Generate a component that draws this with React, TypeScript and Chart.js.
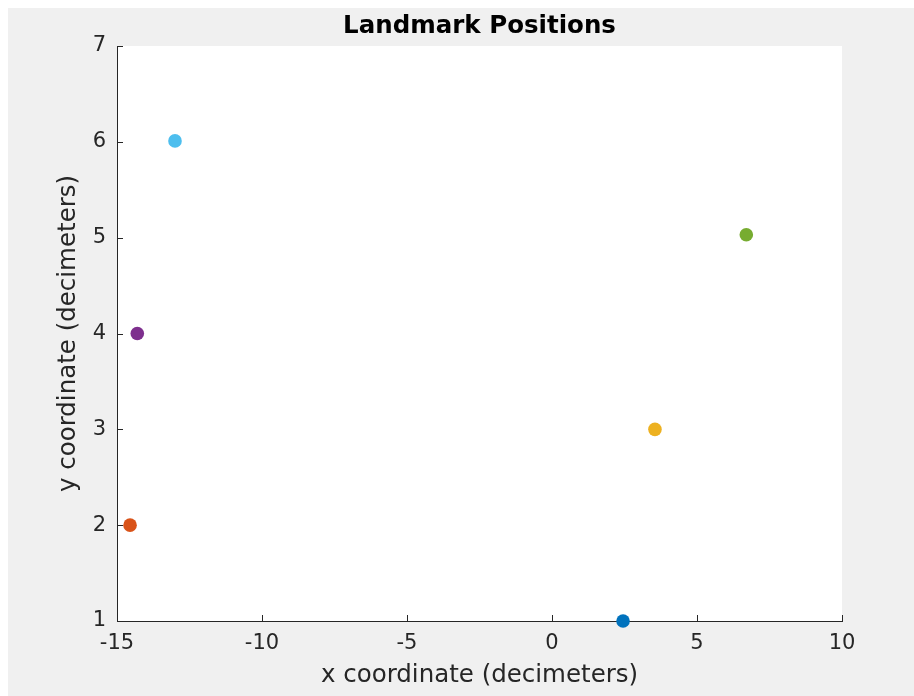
import React, { useEffect, useRef } from "react";
import { Chart, registerables } from "chart.js";

Chart.register(...registerables);

// Landmark coordinates (decimeters), one landmark per series
const landmarkNames = ["L1", "L2", "L3", "L4", "L5", "L6"];
const landmarkX = [2.45, -14.55, 3.55, -14.3, 6.7, -13.0];
const landmarkY = [1.0, 2.0, 3.0, 4.0, 5.03, 6.01];
const landmarkColors = ["#0072BD", "#D95319", "#EDB120", "#7E2F8E", "#77AC30", "#4DBEEE"];

const xTickValues = [-15, -10, -5, 0, 5, 10];
const yTickValues = [1, 2, 3, 4, 5, 6, 7];

const AXIS_COLOR = "#262626";
const FONT = "'DejaVu Sans', sans-serif";

// Tick marks drawn on the inside of the axes
const innerTicks = {
  id: "innerTicks",
  beforeDatasetsDraw(chart: any) {
    const { ctx, chartArea, scales } = chart;
    const len = 6;
    ctx.save();
    ctx.strokeStyle = AXIS_COLOR;
    ctx.lineWidth = 1;
    ctx.beginPath();
    for (const v of xTickValues) {
      const px = Math.round(scales.x.getPixelForValue(v)) + 0.5;
      ctx.moveTo(px, chartArea.bottom);
      ctx.lineTo(px, chartArea.bottom - len);
    }
    for (const v of yTickValues) {
      const py = Math.round(scales.y.getPixelForValue(v)) + 0.5;
      ctx.moveTo(chartArea.left, py);
      ctx.lineTo(chartArea.left + len, py);
    }
    ctx.stroke();
    ctx.restore();
  },
};

// White plot background inside the axes
const plotBackground = {
  id: "plotBackground",
  beforeDraw(chart: any) {
    const { ctx, chartArea } = chart;
    ctx.save();
    ctx.fillStyle = "#ffffff";
    ctx.fillRect(chartArea.left, chartArea.top, chartArea.right - chartArea.left, chartArea.bottom - chartArea.top);
    ctx.restore();
  },
};

export default function App() {
  const canvasRef = useRef<HTMLCanvasElement | null>(null);

  useEffect(() => {
    if (!canvasRef.current) return;
    const chart = new Chart(canvasRef.current, {
      type: "scatter",
      data: {
        datasets: landmarkNames.map((name, i) => ({
          label: name,
          data: [{ x: landmarkX[i], y: landmarkY[i] }],
          backgroundColor: landmarkColors[i],
          borderColor: landmarkColors[i],
          pointRadius: 6.8,
          pointBorderWidth: 0,
          clip: false as any,
        })),
      },
      options: {
        animation: false,
        responsive: false,
        layout: { padding: { left: 0, right: 72, top: 0, bottom: 0 } },
        plugins: {
          legend: { display: false },
          tooltip: { enabled: false },
          title: {
            display: true,
            text: "Landmark Positions",
            color: "#000000",
            fullSize: false,
            font: { family: FONT, size: 24.5, weight: "bold" },
            padding: { top: 4, bottom: 4.6 },
          },
        },
        scales: {
          x: {
            type: "linear",
            min: -15,
            max: 10,
            afterBuildTicks: (scale: any) => {
              scale.ticks = xTickValues.map((v) => ({ value: v }));
            },
            afterFit: (scale: any) => {
              scale.height = 75;
            },
            grid: { display: false, drawTicks: false },
            border: { display: true, color: AXIS_COLOR, width: 1 },
            ticks: {
              color: AXIS_COLOR,
              font: { family: FONT, size: 21 },
              padding: 10,
              maxRotation: 0,
            },
            title: {
              display: true,
              text: "x coordinate (decimeters)",
              color: AXIS_COLOR,
              font: { family: FONT, size: 24.5 },
              padding: { top: 0, bottom: 6 },
            },
          },
          y: {
            type: "linear",
            min: 1,
            max: 7,
            afterBuildTicks: (scale: any) => {
              scale.ticks = yTickValues.map((v) => ({ value: v }));
            },
            afterFit: (scale: any) => {
              scale.width = 109;
            },
            grid: { display: false, drawTicks: false },
            border: { display: true, color: AXIS_COLOR, width: 1 },
            ticks: {
              color: AXIS_COLOR,
              font: { family: FONT, size: 21 },
              padding: 11,
            },
            title: {
              display: true,
              text: "y coordinate (decimeters)",
              color: AXIS_COLOR,
              font: { family: FONT, size: 24.5 },
              padding: { top: 46, bottom: 0 },
            },
          },
        },
      },
      plugins: [plotBackground, innerTicks],
    });
    return () => chart.destroy();
  }, []);

  return (
    <div style={{ position: "fixed", left: 8, top: 8, width: 906, height: 688, background: "#f0f0f0" }}>
      <canvas ref={canvasRef} width={906} height={688} style={{ display: "block" }} />
    </div>
  );
}
